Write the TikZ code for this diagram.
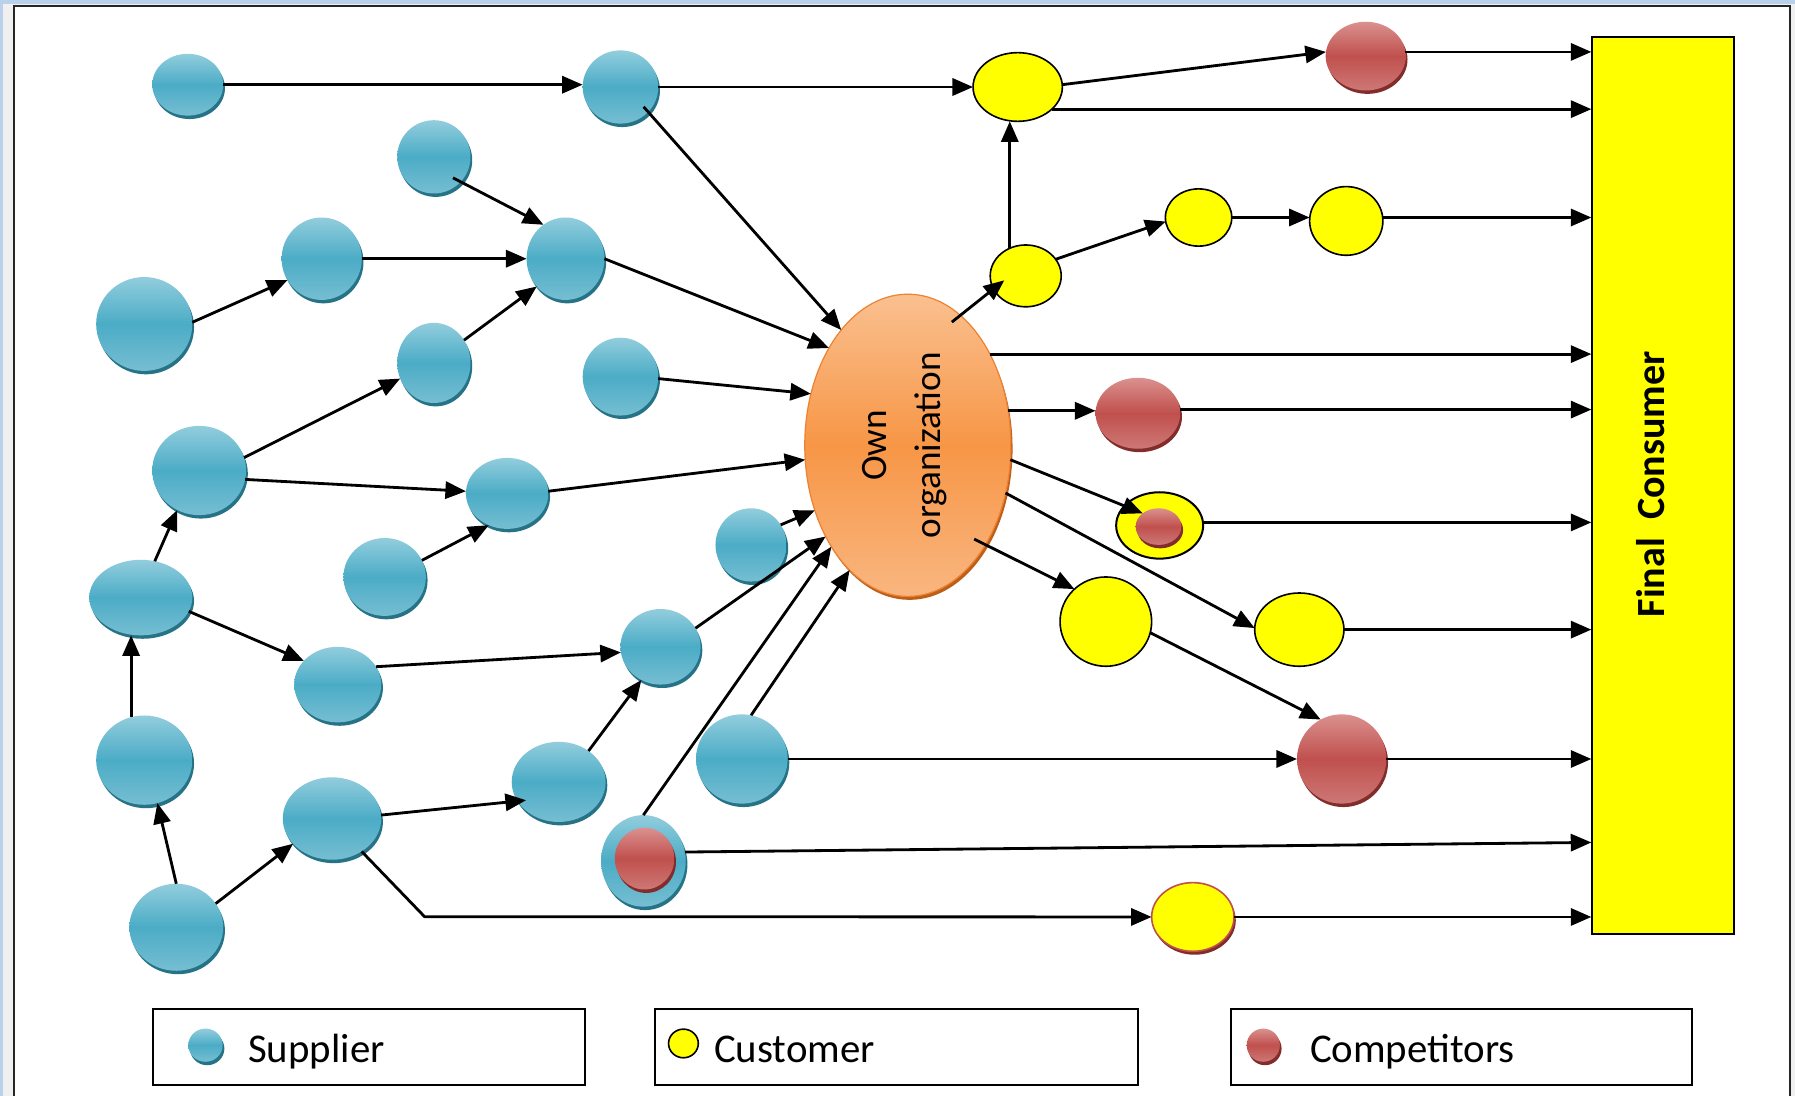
\documentclass[tikz,border=0pt]{standalone}
\usepackage{fontspec}
\setmainfont{Carlito}
\usetikzlibrary{shapes.geometric,arrows.meta,shadows,calc}

\definecolor{supM}{RGB}{75,172,198}
\definecolor{supT}{RGB}{146,205,221}
\definecolor{supB}{RGB}{118,190,210}
\definecolor{supD}{RGB}{38,115,135}
\definecolor{comM}{RGB}{192,80,77}
\definecolor{comT}{RGB}{218,145,143}
\definecolor{comB}{RGB}{205,120,118}
\definecolor{comD}{RGB}{130,45,43}
\definecolor{orgM}{RGB}{247,150,70}
\definecolor{orgT}{RGB}{250,192,144}
\definecolor{orgB}{RGB}{249,182,128}
\definecolor{orgE}{RGB}{236,130,50}
\definecolor{orgD}{RGB}{190,95,25}
\definecolor{custY}{RGB}{255,255,0}
\definecolor{winBlue}{RGB}{185,209,234}
\definecolor{winGray}{RGB}{240,240,240}

\tikzset{
  bub/.style 2 args={ellipse, inner sep=0pt, outer sep=0pt,
    minimum width=0.2mm*#1, minimum height=0.2mm*#2},
  sup/.style={top color=supT, bottom color=supB, middle color=supM,
    general shadow={fill=supD, shadow xshift=0.3mm, shadow yshift=-0.6mm}},
  com/.style={top color=comT, bottom color=comB, middle color=comM,
    general shadow={fill=comD, shadow xshift=0.3mm, shadow yshift=-0.6mm}},
  cust/.style={fill=custY, draw=black, line width=0.8pt},
  custcom/.style={fill=custY, draw=comM, line width=0.8pt,
    general shadow={fill=comD, shadow xshift=0.3mm, shadow yshift=-0.6mm}},
  org/.style={top color=orgT, bottom color=orgB, middle color=orgM,
    draw=orgE, line width=0.6pt,
    general shadow={fill=orgD, shadow xshift=0.3mm, shadow yshift=-0.6mm}},
  con/.style={line width=1.4pt, -{Triangle[length=3.6mm, width=3mm]}},
  lbox/.style 2 args={draw=black, line width=1pt, fill=white, inner sep=0pt,
    minimum width=0.2mm*#1, minimum height=0.2mm*#2},
  legtxt/.style={font=\fontsize{20.3}{24}\selectfont, inner sep=0pt, anchor=base west},
}

\begin{document}
\begin{tikzpicture}[x=0.2mm, y=-0.2mm]
\useasboundingbox (0,0) rectangle (1568,957);

% window frame
\fill[winBlue] (0,0) rectangle (1568,957);
\fill[winGray] (2.6,3.5) rectangle (1568,957);
\fill[white] (12.5,5.2) rectangle (1563.5,957);
\draw[line width=0.35mm, black!85] (12.5,957) -- (12.5,5.2) -- (1563.5,5.2) -- (1563.5,957);

% final consumer
\node[draw=black, line width=1pt, fill=custY, inner sep=0pt,
      minimum width=24.8mm, minimum height=156.8mm] (Final) at (1453,424) {};
\node[rotate=90, inner sep=0pt, font=\bfseries\fontsize{19.9}{24}\selectfont]
      (FinTxt) at (1442,423) {Final~~Consumer};

% own organization
\node[bub={180}{264}, org] (Own) at (793,389) {};
\node[rotate=90, align=center, inner sep=0pt, font=\fontsize{18.5}{27}\selectfont]
      (OwnTxt) at (790,389) {Own\\organization};

% suppliers
\node[bub={62}{54}, sup] (S1) at (164,74) {};
\node[bub={66}{64}, sup] (S2) at (542,76) {};
\node[bub={64}{64}, sup] (S3) at (379,137) {};
\node[bub={68}{72}, sup] (S4) at (494,226) {};
\node[bub={70}{72}, sup] (S5) at (281,226) {};
\node[bub={84}{82}, sup] (S6) at (126,283) {};
\node[bub={64}{70}, sup] (S7) at (379,317) {};
\node[bub={66}{68}, sup] (S8) at (542,329) {};
\node[bub={82}{78}, sup] (S9) at (174,411) {};
\node[bub={72}{62}, sup] (S10) at (443,431) {};
\node[bub={72}{68}, sup] (S11) at (336,504) {};
\node[bub={90}{66}, sup] (S12) at (123,522) {};
\node[bub={76}{66}, sup] (S13) at (295,598) {};
\node[bub={70}{66}, sup] (S14) at (577,565) {};
\node[bub={84}{78}, sup] (S15) at (126,664) {};
\node[bub={86}{72}, sup] (S16) at (290,715) {};
\node[bub={82}{70}, sup] (S17) at (488,683) {};
\node[bub={82}{76}, sup] (S18) at (154,810) {};
\node[bub={62}{64}, sup] (S19) at (656,476) {};
\node[bub={80}{78}, sup] (S20) at (648,663) {};
\node[bub={74}{80}, sup] (S21) at (562,752) {};
\node[bub={52}{54}, com] (S21c) at (563,750) {};

% customers and competitors
\node[bub={78}{60}, cust] (C1) at (889,76) {};
\node[bub={62}{54}, cust] (C2) at (896,241) {};
\node[bub={58}{50}, cust] (C3) at (1047,190) {};
\node[bub={64}{60}, cust] (C4) at (1176,193) {};
\node[bub={70}{60}, com] (R1) at (1193,49) {};
\node[bub={74}{62}, com] (R2) at (994,361) {};
\node[bub={76}{58}, cust, line width=1pt] (C5) at (1013,459) {};
\node[bub={40}{32}, com] (C5c) at (1012,460) {};
\node[bub={80}{78}, cust] (C6) at (966,543) {};
\node[bub={78}{64}, cust] (C7) at (1135,550) {};
\node[bub={78}{78}, com] (R3) at (1172,663) {};
\node[bub={72}{60}, custcom] (C8) at (1042,801) {};

% flows
\draw[con] (S1.east) -- (S1.east -| S2.west);
\draw[con] (S2) -- (C1);
\draw[con, shorten <=-1.2mm] (S2.-42) -- (Own.120);
\draw[con, shorten <=-1.5mm] (S3.-43) -- (S4.123);
\draw[con] (S5) -- (S4);
\draw[con] (S6.2) -- (S5.212);
\draw[con] (S4.east) -- (Own.129);
\draw[con] (S7.37) -- (S4.224);
\draw[con] (S8.-3) -- (Own.152);
\draw[con] (S9.16) -- (S7.205);
\draw[con] (S9.-11) -- (S10.177);
\draw[con] (S10.3) -- (Own.188);
\draw[con] (S11.24) -- (S10.240);
\draw[con] (S12.69) -- (S9.241);
\draw[con] (S12.-16) -- (S13.145);
\draw[con] (S13.25) -- (S14.188);
\draw[con] (S15.107) -- (S15.107 |- S12.south);
\draw[con] (S18.north) -- (S15.287);
\draw[con] (S18.31) -- (S16.213);
\draw[con, shorten >=-1.5mm] (S16.4) -- (S17.205);
\draw[con] (S17.46) -- (S14.240);
\draw[con] (S14.28) -- (Own.228);
\draw[con] (S19.34) -- (Own.215);
\draw[con] (S21.north) -- (Own.233);
\draw[con] (S20.78) -- (Own.245);
\draw[con] (S20) -- (R3);
\draw[con] (R3) -- (R3 -| Final.west);
\draw[con] (S21.12) -- ($(Final.south west)+(0,-81)$);
\draw[con] (S16.-48) -- ++(55,57) -- (C8);
\draw[con] (C8) -- (C8 -| Final.west);
\draw[con, shorten <=-1.9mm, shorten >=-2.4mm] (Own.68) -- (C2.202);
\draw[con] (C2.120) -- (C2.120 |- C1.south);
\draw[con] (C2.29) -- (C3.187);
\draw[con] (C3) -- (C3 -| C4.west);
\draw[con] (C3 -| C4.east) -- (C3 -| Final.west);
\draw[con] (C1.3) -- (R1.174);
\draw[con] (R1.6) -- (R1.6 -| Final.west);
\draw[con] (C1.-33) -- (C1.-33 -| Final.west);
\draw[con] (Own.48) -- (Own.48 -| Final.west);
\draw[con] (Own.19) -- (Own.19 -| R2.west);
\draw[con] (R2.5) -- (R2.5 -| Final.west);
\draw[con] (Own.-8) -- (C5c.140);
\draw[con] (C5.4) -- (C5.4 -| Final.west);
\draw[con] (Own.-26) -- (C7.178);
\draw[con] (C7) -- (C7 -| Final.west);
\draw[con, shorten <=-2.2mm] (Own.-52) -- (C6.134);
\draw[con] (C6.-14) -- (R3.118);

% legend
\node[lbox={377}{67}] (L1) at (322.5,914.5) {};
\node[lbox={422}{67}] (L2) at (783,914.5) {};
\node[lbox={403}{67}] (L3) at (1276.5,914.5) {};
\node[bub={30}{29}, sup] (LS) at (179.5,913) {};
\node[bub={26}{25}, cust] (LC) at (597,911.5) {};
\node[bub={29}{29}, com] (LR) at (1103.5,913) {};
\node[legtxt] (T1) at (216.5,928.5) {Supplier};
\node[legtxt] (T2) at (623.5,928.5) {Customer};
\node[legtxt] (T3) at (1144,928.5) {Competitors};
\end{tikzpicture}
\end{document}
